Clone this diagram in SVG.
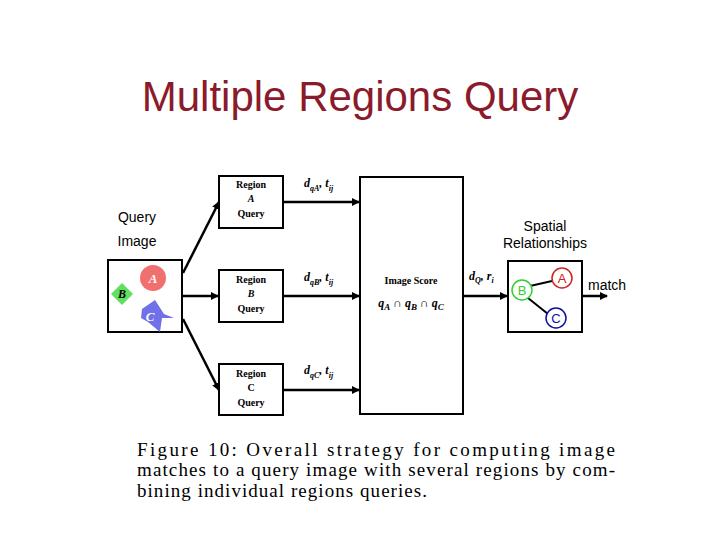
<svg xmlns="http://www.w3.org/2000/svg" width="720" height="540" viewBox="0 0 720 540">
<defs>
<style>
.box{fill:#fff;stroke:#000;stroke-width:2}
.s{font-family:"Liberation Serif",serif;font-weight:bold;font-size:10px;text-anchor:middle}
.h{font-family:"Liberation Sans",sans-serif;font-size:14px;text-anchor:middle}
.ln{stroke:#000;stroke-width:2.5;fill:none;marker-end:url(#ar)}
.cap{font-family:"Liberation Serif",serif;font-size:19px}
.m{font-family:"Liberation Serif",serif;font-weight:bold;font-style:italic;font-size:12px}
</style>
<marker id="ar" markerWidth="8" markerHeight="8" refX="7" refY="4" orient="auto" markerUnits="userSpaceOnUse"><path d="M0,0L8,4L0,8z"/></marker>
</defs>
<rect width="720" height="540" fill="#fff"/>
<text x="360" y="111" font-family="Liberation Sans,sans-serif" font-size="42" fill="#8b1a2b" text-anchor="middle">Multiple Regions Query</text>
<g id="connectors">
<path class="ln" d="M183,273L219,202"/>
<path class="ln" d="M183,296L218,296"/>
<path class="ln" d="M183,319L219,390"/>
<path class="ln" d="M284,202L359,202"/>
<path class="ln" d="M284,296L359,296"/>
<path class="ln" d="M284,390L359,390"/>
<path class="ln" d="M464,296L507,296"/>
<path class="ln" d="M583,296L607,296"/>
</g>
<g id="query-image">
<text class="h" x="137" y="222">Query</text>
<text class="h" x="137" y="246">Image</text>
<rect class="box" x="108" y="260" width="74" height="72"/>
<circle cx="153" cy="278" r="13" fill="#f07070"/>
<text x="153" y="283" font-family="Liberation Serif,serif" font-style="italic" font-weight="bold" font-size="13" fill="#fff" text-anchor="middle">A</text>
<path d="M122,283L133,294L122,305L111,294z" fill="#60e060"/>
<text x="122" y="298" font-family="Liberation Serif,serif" font-style="italic" font-weight="bold" font-size="12" text-anchor="middle">B</text>
<path d="M142,309L155,300L164,314L174,318L162,318L160,332L148,322L141,318z" fill="#7070e8"/>
<text x="150" y="321" font-family="Liberation Serif,serif" font-style="italic" font-weight="bold" font-size="13" fill="#fff" text-anchor="middle">C</text>
</g>
<g id="region-a"><rect class="box" x="219" y="176" width="64" height="52"/><text class="s" x="251" y="188">Region</text><text class="s" x="251" y="202" font-style="italic">A</text><text class="s" x="251" y="217">Query</text></g>
<g id="region-b"><rect class="box" x="219" y="270" width="64" height="52"/><text class="s" x="251" y="283">Region</text><text class="s" x="251" y="297" font-style="italic">B</text><text class="s" x="251" y="312">Query</text></g>
<g id="region-c"><rect class="box" x="219" y="364" width="64" height="51"/><text class="s" x="251" y="377">Region</text><text class="s" x="251" y="391">C</text><text class="s" x="251" y="406">Query</text></g>
<text class="m" x="304" y="187">d<tspan font-size="8" dy="4">qA</tspan><tspan dy="-4">, t</tspan><tspan font-size="8" dy="4">ij</tspan></text>
<text class="m" x="304" y="281">d<tspan font-size="8" dy="4">qB</tspan><tspan dy="-4">, t</tspan><tspan font-size="8" dy="4">ij</tspan></text>
<text class="m" x="304" y="374">d<tspan font-size="8" dy="4">qC</tspan><tspan dy="-4">, t</tspan><tspan font-size="8" dy="4">ij</tspan></text>
<g id="image-score"><rect class="box" x="360" y="177" width="103" height="237"/>
<text class="s" x="411" y="284">Image Score</text>
<text class="m" x="411" y="307" text-anchor="middle">q<tspan font-size="9" dy="3">A</tspan><tspan dy="-3" font-style="normal"> ∩ </tspan>q<tspan font-size="9" dy="3">B</tspan><tspan dy="-3" font-style="normal"> ∩ </tspan>q<tspan font-size="9" dy="3">C</tspan></text></g>
<text class="m" x="469" y="280">d<tspan font-size="8" dy="3">Q</tspan><tspan dy="-3">, r</tspan><tspan font-size="8" dy="3">i</tspan></text>
<g id="spatial">
<text class="h" x="545" y="231">Spatial</text>
<text class="h" x="545" y="248">Relationships</text>
<rect class="box" x="508" y="261" width="74" height="71"/>
<path d="M530,286L552,281M528,298L548,314" stroke="#000" stroke-width="2"/>
<circle cx="562" cy="278" r="10" fill="#fff" stroke="#d02020" stroke-width="1.5"/><text x="562" y="283" font-family="Liberation Sans,sans-serif" font-size="13" fill="#d02020" text-anchor="middle">A</text>
<circle cx="522" cy="290" r="10" fill="#fff" stroke="#30d030" stroke-width="1.5"/><text x="522" y="295" font-family="Liberation Sans,sans-serif" font-size="13" fill="#30d030" text-anchor="middle">B</text>
<circle cx="556" cy="318" r="10" fill="#fff" stroke="#1010a0" stroke-width="1.5"/><text x="556" y="323" font-family="Liberation Sans,sans-serif" font-size="13" fill="#1010a0" text-anchor="middle">C</text>
</g>
<text x="588" y="290" font-family="Liberation Sans,sans-serif" font-size="14">match</text>
<text class="cap" x="137" y="456" textLength="478" lengthAdjust="spacing">Figure 10:  Overall strategy for computing image</text>
<text class="cap" x="137" y="476" textLength="478" lengthAdjust="spacing">matches to a query image with several regions by com-</text>
<text class="cap" x="137" y="497" textLength="290" lengthAdjust="spacing">bining individual  regions queries.</text>
</svg>
